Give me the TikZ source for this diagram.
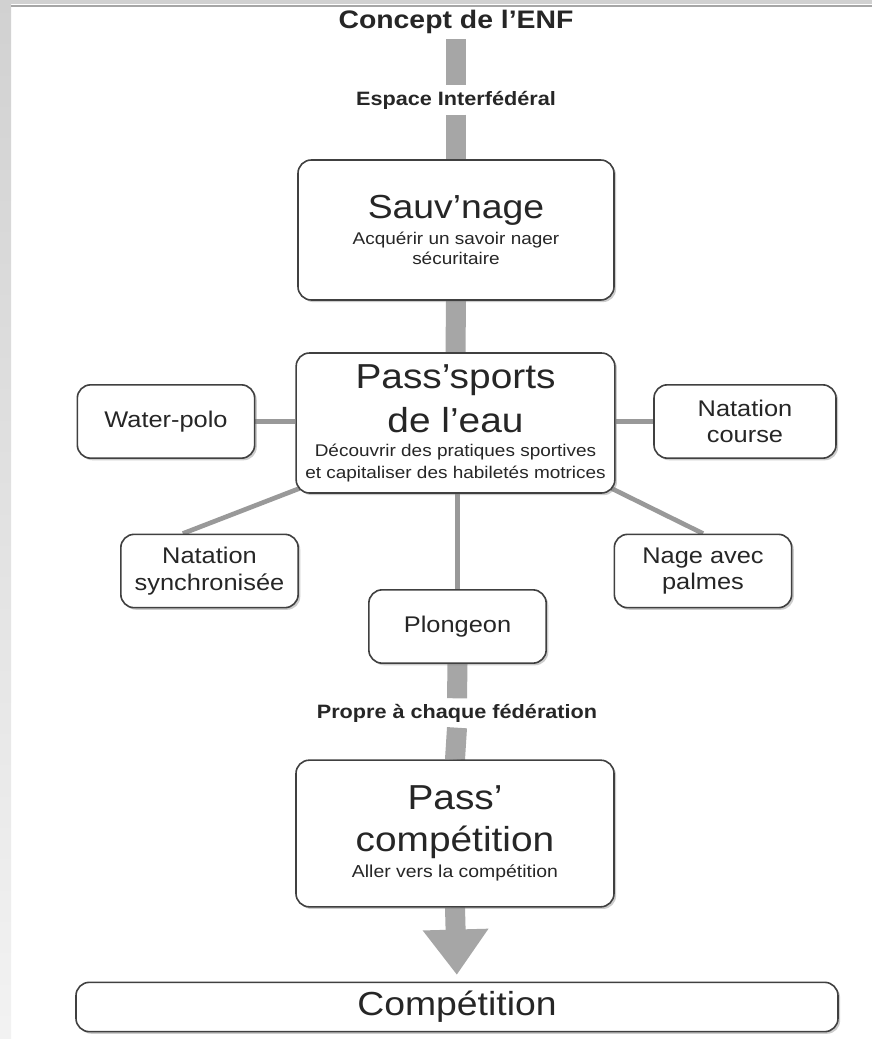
\documentclass[tikz,border=0pt]{standalone}
\usepackage{fontspec}
\setmainfont{Liberation Sans}[FakeStretch=1.12]
\usetikzlibrary{shadows,backgrounds,arrows.meta}
\newcommand{\grandtxt}{\fontsize{26}{31.5}\selectfont}
\newcommand{\petittxt}{\fontsize{12.7}{15}\selectfont}

\begin{document}
\begin{tikzpicture}[x=0.75pt, y=-0.75pt,
            basebox/.style={rectangle, draw=black!75, line width=1.2pt, rounded corners=10pt, fill=white, text=black!85, align=center, drop shadow={shadow xshift=1.6pt, shadow yshift=-1.6pt, opacity=.4}},
            bigbox/.style={basebox, minimum width=237pt, minimum height=105pt, font=\petittxt},
            smallbox/.style={basebox, minimum width=133pt, minimum height=55pt, font=\fontsize{17}{20}\selectfont},
            bartext/.style={font=\bfseries\fontsize{14.5}{16}\selectfont, text=black!85, inner sep=4pt},
            barre/.style={draw=black!35, line width=15pt},
            lien/.style={draw=black!40, line width=3.5pt},
        ]
            \useasboundingbox (0,0) rectangle (872,1039);
            \node[bartext, font=\bfseries\fontsize{19}{22}\selectfont](titlenode) at (456,22) {Concept de l’ENF};
            \node[bartext](espacenode) at (456,100) {Espace Interfédéral};
            \node[bigbox](sauvnode) at (456,230) {{\fontsize{25}{30}\selectfont Sauv’nage}\\[4pt] Acquérir un savoir nager\\ sécuritaire};
            \node[bigbox, minimum width=239pt, font=\fontsize{12.7}{16.5}\selectfont](passnode) at (455.5,423) {{\grandtxt Pass’sports}\\[8.5pt] {\grandtxt de l’eau}\\[1pt] Découvrir des pratiques sportives\\ et capitaliser des habiletés motrices};
            \node[smallbox](waternode) at (166,421.5) {Water-polo};
            \node[smallbox, minimum width=136.5pt](coursenode) at (745,421.5) {Natation\\ course};
            \node[smallbox](synchronode) at (209.5,571) {Natation\\ synchronisée};
            \node[smallbox](palmesnode) at (703,571) {Nage avec\\ palmes};
            \node[smallbox](plongeonnode) at (457.5,626.5) {Plongeon};
            \node[bartext](proprenode) at (457,713) {Propre à chaque fédération};
            \node[bigbox, minimum width=238.5pt, minimum height=110pt](passcompnode) at (455,833.5) {{\grandtxt Pass’}\\[11pt] {\grandtxt compétition}\\[4.5pt] {\fontsize{13}{15}\selectfont Aller vers la compétition}};
            \node[basebox, minimum width=571.5pt, minimum height=37pt, font=\fontsize{25}{30}\selectfont](compnode) at (457,1007) {Compétition};
            \begin{scope}[on background layer]
                \fill[white] (0,0) rectangle (872,1039);
                \shade[top color=black!18, bottom color=black!5] (0,0) rectangle (11,1039);
                \fill[black!18] (0,0) rectangle (872,4);
                \draw[black!35, line width=1pt] (11,6) -- (872,6);
                \draw[barre] (titlenode.south) -- (espacenode.north);
                \draw[barre] (espacenode.south) -- (sauvnode.north);
                \draw[barre] (sauvnode.south) -- (passnode.north);
                \draw[barre] (plongeonnode.south) -- (proprenode.north);
                \draw[barre] (proprenode.south) -- (passcompnode.north);
                \draw[barre, -{Triangle[width=47pt, length=34pt]}, shorten >=5pt] (passcompnode.south) -- (compnode.north);
                \draw[lien] (waternode.east) -- (waternode.east -| passnode.west);
                \draw[lien] (coursenode.west) -- (coursenode.west -| passnode.east);
                \draw[lien] ([xshift=3pt,yshift=4pt]passnode.south west) -- ([xshift=-20pt]synchronode.north);
                \draw[lien] ([xshift=-3pt,yshift=4pt]passnode.south east) -- (palmesnode.north);
                \draw[lien] (plongeonnode.north |- passnode.south) -- (plongeonnode.north);
            \end{scope}
        \end{tikzpicture}
\end{document}
